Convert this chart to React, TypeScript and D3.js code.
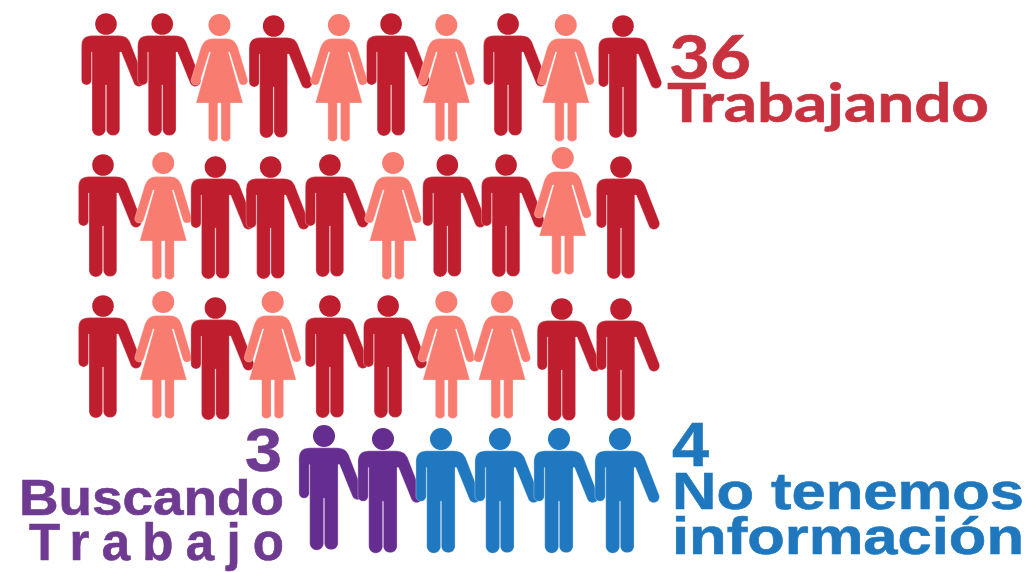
import React from "react";
import * as d3 from "d3";

// Data: 1 icon = 1 person. H = man, M = woman
const rowTrabajando1 = ["H","H","M","H","M","H","M","H","M","H"];
const rowTrabajando2 = ["H","M","H","H","H","M","H","H","M","H"];
const rowTrabajando3 = ["H","M","H","M","H","H","M","M","H","H"];
const rowOtros = ["H","H","H","H","H","H"];
const categoriaOtros = ["buscando","buscando","info","info","info","info"];

const counts = [36, 3, 4];

const W = 1036, H = 572;
const col = d3.scaleLinear().domain([0, 9]).range([105, 620]);
const rowY = d3.scalePoint<number>().domain([0, 1, 2]).range([24, 306]);

// hand-placement jitter of the pictogram
const dx = [
  [1, 0, 0, -3, 5, 0, -2, 2.5, 3, 3],
  [-2, 1, -4, -6, -4, 2, -1, 0.5, 0, 1],
  [-2, 1, -4, -4, -4, -3, -2, -3.5, -1, 1],
];
const dy = [
  [0, 0, 1, 2, 1, 0, 1, 0, 1, 2],
  [0, -2, 2, 2, 0, -2, 0, 0, -7, 2],
  [0, -4, 2, -4, 0, 0, -4, -4, 3, 3],
];
const lastRowX = [324, 383, 441, 500, 559, 620];
const lastRowY = [436, 439, 439, 439, 439, 439];
const lastRowScale = 1.02;

const colors: Record<string, string> = {
  H: "#be1e2d", M: "#f97c71", buscando: "#662d91", info: "#1f78c0",
};

const manPath =
  "M-14.4 28 L-14.4 56 A5 5 0 0 1 -24.6 56 L-24.6 22 Q-24.6 11.6 -14 11.6 L13 11.6 Q21 11.6 24 18 L38 54 A5.2 5.2 0 0 1 28 59.5 L15.2 28 L13.8 28 L13.8 106 A6.9 6.9 0 0 1 0.3 106 L0.3 61 L-0.3 61 L-0.3 106 A6.9 6.9 0 0 1 -14 106 L-14 28 Z";
const womanPath =
  "M-10.2 27 L-19.5 57 A4.6 4.6 0 0 1 -28.4 55 L-18.4 22 Q-15 13.6 -7 13.6 L7 13.6 Q15 13.6 18.4 22 L28.4 55 A4.6 4.6 0 0 1 19.5 57 L10.2 27 L9 27 L23.5 78 L11 78 L11 113.5 A5.2 5.2 0 0 1 1.6 113.5 L1.6 78 L-1.6 78 L-1.6 113.5 A5.2 5.2 0 0 1 -11 113.5 L-11 78 L-23.5 78 L-9 27 Z";

function Person({ x, y, kind, fill, scale = 1 }: { x: number; y: number; kind: string; fill: string; scale?: number }) {
  const r = kind === "M" ? 11 : 10.8;
  return (
    <g transform={`translate(${x},${y}) scale(${scale})`} fill={fill} stroke="#fff" strokeWidth={0.3}>
      <circle r={r} stroke="none" />
      <path d={kind === "M" ? womanPath : manPath} />
    </g>
  );
}

const red = "#c8323f", purple = "#6f3a92", blue = "#1f78bd";
const labels = [
  { t: String(counts[0]), x: 669, y: 78.5, len: 82, size: 61, fam: "Lato", fill: red },
  { t: "Trabajando", x: 667, y: 122, len: 322, size: 53, fam: "Lato", fill: red },
  { t: String(counts[1]), x: 245, y: 471, len: 37, size: 62, fam: "Liberation Sans", fill: purple },
  { t: "Buscando", x: 19, y: 514.5, len: 265, size: 50, fam: "Liberation Sans", fill: purple },
  { t: "Trabajo", x: 29, y: 560, len: 255, size: 51, fam: "Liberation Sans", fill: purple, spacing: true },
  { t: String(counts[2]), x: 672, y: 466, len: 37, size: 63, fam: "Liberation Sans", fill: blue },
  { t: "No tenemos", x: 672, y: 509, len: 352, size: 52, fam: "Liberation Sans", fill: blue },
  { t: "información", x: 672, y: 554, len: 352, size: 52, fam: "Liberation Sans", fill: blue },
];

export default function App() {
  const rows = [rowTrabajando1, rowTrabajando2, rowTrabajando3];
  return (
    <svg width={W} height={H} viewBox={`0 0 ${W} ${H}`}
      style={{ position: "absolute", left: 0, top: 0, display: "block", background: "#fff" }}>
      {rows.map((row, r) =>
        row.map((k, c) => (
          <Person key={`${r}-${c}`} kind={k} fill={colors[k]}
            x={col(c) + dx[r][c]} y={(rowY(r) as number) + dy[r][c]} />
        ))
      )}
      {rowOtros.map((k, i) => (
        <Person key={i} kind={k} fill={colors[categoriaOtros[i]]} x={lastRowX[i]} y={lastRowY[i]} scale={lastRowScale} />
      ))}
      {labels.map((l) => (
        <text key={l.t} x={l.x} y={l.y} fill={l.fill} stroke={l.fill} strokeWidth={0.6} fontFamily={l.fam} fontWeight={700} fontSize={l.size}
          textLength={l.len} lengthAdjust={l.spacing ? "spacing" : "spacingAndGlyphs"}>
          {l.t}
        </text>
      ))}
    </svg>
  );
}
